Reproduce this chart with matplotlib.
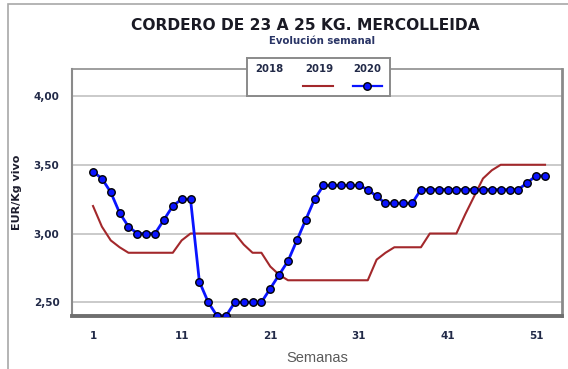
import matplotlib
matplotlib.use("Agg")
import matplotlib.pyplot as plt
from matplotlib.patches import Rectangle
from matplotlib.ticker import FuncFormatter

# Weekly price of 23-25 kg lamb at Mercolleida (EUR/kg live weight)
weeks = list(range(1, 53))
price_2019 = [3.20, 3.05, 2.95, 2.90, 2.86, 2.86, 2.86, 2.86, 2.86, 2.86,
              2.95, 3.00, 3.00, 3.00, 3.00, 3.00, 3.00, 2.92, 2.86, 2.86,
              2.76, 2.70, 2.66, 2.66, 2.66, 2.66, 2.66, 2.66, 2.66, 2.66,
              2.66, 2.66, 2.81, 2.86, 2.90, 2.90, 2.90, 2.90, 3.00, 3.00,
              3.00, 3.00, 3.14, 3.27, 3.40, 3.46, 3.50, 3.50, 3.50, 3.50,
              3.50, 3.50]
price_2020 = [3.45, 3.40, 3.30, 3.15, 3.05, 3.00, 3.00, 3.00, 3.10, 3.20,
              3.25, 3.25, 2.65, 2.50, 2.40, 2.40, 2.50, 2.50, 2.50, 2.50,
              2.60, 2.70, 2.80, 2.95, 3.10, 3.25, 3.35, 3.35, 3.35, 3.35,
              3.35, 3.32, 3.27, 3.22, 3.22, 3.22, 3.22, 3.32, 3.32, 3.32,
              3.32, 3.32, 3.32, 3.32, 3.32, 3.32, 3.32, 3.32, 3.32, 3.37,
              3.42, 3.42]
series_names = ["2018", "2019", "2020"]
x_ticks = [1, 11, 21, 31, 41, 51]
y_ticks = [2.5, 3.0, 3.5, 4.0]

RED = "#a3282b"
BLUE = "#0a14ff"
INK = "#222a48"

fig = plt.figure(figsize=(5.68, 3.69), dpi=100)

# thin outer frame (only left/top edges fall inside the canvas)
fig.patches.append(Rectangle((8 / 568, -0.2), 1.2, 1.2 - 4 / 369,
                             transform=fig.transFigure, fill=False,
                             edgecolor="#a8a8a8", linewidth=1.2))

ax = fig.add_axes([0.1268, 0.1436, 0.8627, 0.6707])
ax.set_xlim(-1.37, 53.92)
ax.set_ylim(2.40, 4.20)

for y in y_ticks:
    ax.axhline(y, color="#c6c6c6", linewidth=1.3, zorder=0)

ax.plot(weeks, price_2019, color=RED, linewidth=1.5, zorder=2)
ax.plot(weeks, price_2020, color=BLUE, linewidth=2.0, marker="o",
        markersize=5.4, markerfacecolor=BLUE, markeredgecolor="black",
        markeredgewidth=1.0, zorder=3)

ax.set_xticks(x_ticks)
ax.set_yticks(y_ticks)
ax.yaxis.set_major_formatter(FuncFormatter(lambda v, p: f"{v:.2f}".replace(".", ",")))
ax.tick_params(axis="both", length=0, labelsize=7.5, labelcolor=INK)
ax.tick_params(axis="x", pad=10.5)
ax.tick_params(axis="y", pad=9)
for lab in ax.get_xticklabels() + ax.get_yticklabels():
    lab.set_fontweight("bold")

ax.spines["left"].set_color("#8a8a8a")
ax.spines["left"].set_linewidth(1.5)
ax.spines["bottom"].set_color("#6e6e6e")
ax.spines["bottom"].set_linewidth(2.8)
ax.spines["top"].set_color("#8e8e8e")
ax.spines["top"].set_linewidth(1.2)
ax.spines["right"].set_color("#8a8a8a")
ax.spines["right"].set_linewidth(2.0)

ax.set_ylabel("EUR/Kg vivo", fontsize=8, fontweight="bold", color="#1c1c2c")
ax.yaxis.set_label_coords(-0.102, 0.5)
ax.set_xlabel("Semanas", fontsize=10.5, family="Liberation Sans", color="#5a5a5a")
ax.xaxis.set_label_coords(0.5, -0.142)

fig.text(305 / 568, 1 - 25.5 / 369, "CORDERO DE 23 A 25 KG. MERCOLLEIDA",
         ha="center", va="center", fontsize=11.2, fontweight="bold", color="#1a1a24")
fig.text(322 / 568, 1 - 40.5 / 369, "Evolución semanal",
         ha="center", va="center", fontsize=7.3, fontweight="bold", color="#2a3566")

# legend box: year labels above their line samples
lg = fig.add_axes([0.4343, 0.7398, 0.2523, 0.1022], zorder=5)
lg.set_xlim(0, 1)
lg.set_ylim(0, 1)
lg.set_xticks([])
lg.set_yticks([])
for s in lg.spines.values():
    s.set_color("#8a8a8a")
    s.set_linewidth(1.4)
for name, xc in zip(series_names, [0.156, 0.504, 0.839]):
    lg.text(xc, 0.72, name, ha="center", va="center", fontsize=7.3,
            fontweight="bold", color=INK)
lg.plot([0.393, 0.602], [0.265, 0.265], color=RED, linewidth=1.5)
lg.plot([0.742, 0.944], [0.265, 0.265], color=BLUE, linewidth=1.6)
lg.plot([0.84], [0.265], marker="o", markersize=5.4, markerfacecolor=BLUE,
        markeredgecolor="black", markeredgewidth=1.0)

fig.savefig("out.png", dpi=100)
